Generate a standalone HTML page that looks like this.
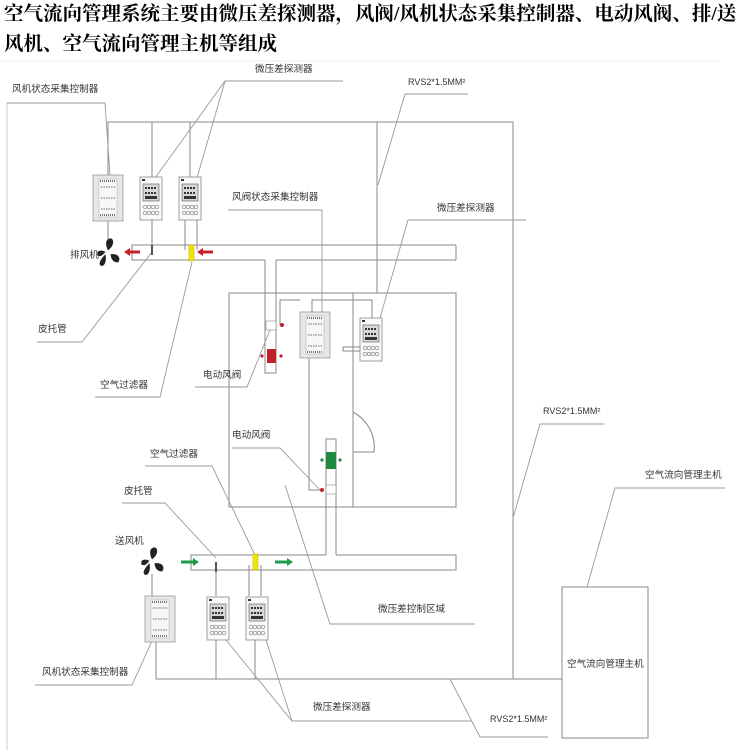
<!DOCTYPE html>
<html><head><meta charset="utf-8"><style>
body{margin:0;background:#fff;width:750px;height:750px;overflow:hidden}
svg{display:block}
text{font-family:"Liberation Sans","Noto Sans CJK SC",sans-serif;fill:#333}
.t{font-size:19.5px;font-weight:bold;fill:#000;font-family:"Liberation Serif","Noto Serif CJK SC",serif}
.l{font-size:9.6px}
.r{font-size:9px}
</style></head><body>
<svg width="750" height="750" viewBox="0 0 750 750">
<defs>
<g id="ctl">
<rect x="0" y="0" width="30" height="46" fill="#e6e6e6" stroke="#999" stroke-width="0.8"/>
<rect x="6" y="4" width="18" height="38" fill="#f7f7f7" stroke="#aaa" stroke-width="0.5"/>
<path d="M7 6h16M7 40h16" stroke="#777" stroke-width="2" stroke-dasharray="1 1"/>
<path d="M8 12h14M8 23h14M8 34h14" stroke="#888" stroke-width="1.2" stroke-dasharray="1.5 1"/>
</g>
<g id="det">
<rect x="0" y="0" width="22" height="43" fill="#fafafa" stroke="#888" stroke-width="0.8"/>
<rect x="3" y="7" width="16" height="17" fill="#d8d8d8" stroke="#555" stroke-width="0.6"/>
<path d="M5 11h12M5 16h12" stroke="#333" stroke-width="2" stroke-dasharray="2 1"/>
<rect x="5" y="19" width="12" height="3" fill="#333"/>
<rect x="2" y="2" width="3" height="2" fill="#333"/>
<g fill="none" stroke="#777" stroke-width="0.6"><circle cx="5" cy="30" r="1.8"/><circle cx="9" cy="30" r="1.8"/><circle cx="13" cy="30" r="1.8"/><circle cx="17" cy="30" r="1.8"/><circle cx="5" cy="36" r="1.8"/><circle cx="9" cy="36" r="1.8"/><circle cx="13" cy="36" r="1.8"/><circle cx="17" cy="36" r="1.8"/></g>
</g>
<g id="fan" fill="#222">
<path d="M0 -2 C-3 -8 -1 -12 3 -11 C5 -9 4 -5 0 -2Z"/>
<path d="M2 1 C8 0 10 4 8 7 C5 8 2 5 2 1Z"/>
<path d="M-2 1 C-6 5 -8 9 -5 10 C-2 10 -1 5 -2 1Z"/>
<path d="M-2 -1 C-7 -3 -9 -1 -8 2 C-6 3 -4 2 -2 -1Z"/>
</g>
</defs>

<text class="t" x="4" y="20">空气流向管理系统主要由微压差探测器，风阀/风机状态采集控制器、电动风阀、排/送</text>
<text class="t" x="4" y="50">风机、空气流向管理主机等组成</text>
<line x1="0" y1="61" x2="720" y2="61" stroke="#eee" stroke-width="1"/>

<g stroke="#8a8a8a" stroke-width="1" fill="none">
<line x1="7" y1="103" x2="7" y2="750" stroke="#ccc"/>
<polyline points="108,175 108,122 513,122 513,679"/>
<line x1="152" y1="122" x2="152" y2="177"/>
<line x1="190" y1="122" x2="190" y2="177"/>
<line x1="377" y1="122" x2="377" y2="293"/>
<polyline points="456,245 132,245 132,260 265,260"/>
<line x1="276" y1="260" x2="456" y2="260"/>
<line x1="456" y1="245" x2="456" y2="260"/>
<polyline points="265,260 265,373 276,373 276,260"/>
<rect x="229" y="293" width="227" height="214"/>
<line x1="353" y1="293" x2="353" y2="507"/>
<path d="M353 412 A40 40 0 0 1 374 452 L353 452"/>
<polyline points="282,325 280,325 280,300 300,300"/>
<polyline points="312,312 312,300 372,300 372,318"/>
<polyline points="309,357 309,490 321,490"/>
<rect x="343" y="347" width="17" height="4"/>
<polyline points="326,555 326,439 336,439 336,555"/>
<polyline points="326,555 191,555 191,570 456,570 456,555 336,555"/>
<line x1="152" y1="220" x2="152" y2="250"/>
<line x1="185" y1="220" x2="185" y2="250"/>
<line x1="197" y1="220" x2="197" y2="250"/>
<line x1="108" y1="220" x2="108" y2="243"/>
<line x1="216" y1="568" x2="216" y2="596"/>
<line x1="249" y1="565" x2="249" y2="596"/>
<line x1="261" y1="565" x2="261" y2="596"/>
<line x1="152" y1="574" x2="152" y2="596"/>
<polyline points="156,641 156,679 562,679"/>
<line x1="216" y1="640" x2="216" y2="679"/>
<line x1="255" y1="640" x2="255" y2="679"/>
<rect x="562" y="587" width="86" height="151"/>
</g>

<g stroke="#999" stroke-width="0.9" fill="none">
<polyline points="7,103 105,103 110,175"/>
<polyline points="343,81 225,81 155,178"/>
<line x1="225" y1="81" x2="197" y2="178"/>
<polyline points="468,94 405,94 378,185"/>
<polyline points="37,342 82,342 152,252"/>
<polyline points="95,397 160,397 192,262"/>
<polyline points="526,220 408,220 380,318"/>
<polyline points="228,210 322,210 322,312"/>
<polyline points="195,387 247,387 270,330"/>
<polyline points="232,448 280,448 320,490"/>
<polyline points="145,466 212,466 255,555"/>
<polyline points="122,503 165,503 216,558"/>
<polyline points="285,485 330,624 475,624"/>
<polyline points="35,685 132,685 152,641"/>
<polyline points="472,721 292,721 226,640"/>
<line x1="292" y1="721" x2="266" y2="640"/>
<polyline points="604,424 540,424 513,518"/>
<polyline points="725,488 615,488 587,587"/>
<polyline points="450,679 480,737 548,737"/>
</g>

<use href="#ctl" x="93" y="175"/>
<use href="#det" x="140" y="177"/>
<use href="#det" x="179" y="177"/>
<use href="#ctl" x="300" y="312"/>
<use href="#det" x="360" y="318"/>
<use href="#ctl" x="145" y="596"/>
<use href="#det" x="207" y="597"/>
<use href="#det" x="246" y="597"/>
<use href="#fan" transform="translate(108,253) scale(1.3)"/>
<use href="#fan" transform="translate(152,562) scale(1.3)"/>

<rect x="189" y="245" width="5" height="16" fill="#f2e600" stroke="#b8a800" stroke-width="0.5"/>
<rect x="253" y="554" width="5" height="16" fill="#f2e600" stroke="#b8a800" stroke-width="0.5"/>
<rect x="151" y="245" width="2" height="10" fill="#555"/>
<rect x="215" y="562" width="2" height="10" fill="#555"/>

<g fill="#c8202a">
<path d="M124 252 l6 -4 v2.5 h10 v3 h-10 v2.5z"/>
<path d="M197 252 l6 -4 v2.5 h10 v3 h-10 v2.5z"/>
</g>
<g fill="#1f9a4a">
<path d="M199 562 l-6 -4 v2.5 h-12 v3 h12 v2.5z"/>
<path d="M293 562 l-6 -4 v2.5 h-12 v3 h12 v2.5z"/>
</g>

<rect x="266" y="321" width="10" height="9" fill="#fff" stroke="#888" stroke-width="0.6"/>
<rect x="267" y="349" width="9" height="14" fill="#c0202a"/>
<g fill="#c0202a"><circle cx="262" cy="356" r="1.6"/><circle cx="281" cy="356" r="1.6"/><circle cx="282" cy="325" r="2"/><circle cx="322" cy="490" r="2"/></g>
<rect x="326" y="452" width="10" height="17" fill="#1f8a40"/>
<g fill="#1f8a40"><circle cx="322" cy="460" r="1.6"/><circle cx="340" cy="460" r="1.6"/></g>
<rect x="326" y="485" width="10" height="9" fill="#fff" stroke="#888" stroke-width="0.6"/>

<text class="l" x="12" y="92">风机状态采集控制器</text>
<text class="l" x="255" y="72">微压差探测器</text>
<text class="r" x="408" y="85">RVS2*1.5MM²</text>
<text class="l" x="232" y="200">风阀状态采集控制器</text>
<text class="l" x="437" y="211">微压差探测器</text>
<text class="l" x="70" y="258">排风机</text>
<text class="l" x="38" y="332">皮托管</text>
<text class="l" x="203" y="378">电动风阀</text>
<text class="l" x="100" y="388">空气过滤器</text>
<text class="r" x="543" y="414">RVS2*1.5MM²</text>
<text class="l" x="232" y="438">电动风阀</text>
<text class="l" x="150" y="457">空气过滤器</text>
<text class="l" x="645" y="478">空气流向管理主机</text>
<text class="l" x="124" y="494">皮托管</text>
<text class="l" x="115" y="544">送风机</text>
<text class="l" x="378" y="612">微压差控制区域</text>
<text class="l" x="567" y="667">空气流向管理主机</text>
<text class="l" x="42" y="675">风机状态采集控制器</text>
<text class="l" x="313" y="710">微压差探测器</text>
<text class="r" x="490" y="722">RVS2*1.5MM²</text>
</svg>
</body></html>
